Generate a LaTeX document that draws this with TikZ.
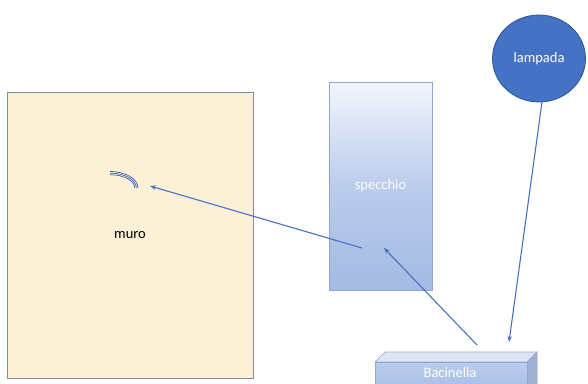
\documentclass[tikz,border=0pt]{standalone}
\usepackage{fontspec}
\setmainfont{Carlito}
\usetikzlibrary{arrows.meta,shapes.geometric}
\definecolor{wallfill}{RGB}{252,240,214}
\definecolor{wallline}{RGB}{128,140,160}
\definecolor{officeblue}{RGB}{68,114,196}
\definecolor{darkblue}{RGB}{47,82,143}
\definecolor{mirrortop}{RGB}{242,245,252}
\definecolor{mirrorbot}{RGB}{164,186,228}
\definecolor{mirrorline}{RGB}{143,168,210}
\definecolor{tubfront}{RGB}{170,192,232}
\definecolor{tubtop}{RGB}{222,230,245}
\definecolor{tubside}{RGB}{160,176,208}
\tikzset{
  ray/.style={officeblue, line width=1.1pt, -{Stealth[length=6pt,width=4.5pt]}},
  txt/.style={font=\fontsize{14.5}{16}\selectfont, inner sep=0pt},
}
\begin{document}
\begin{tikzpicture}[x=1pt,y=-1pt]
\useasboundingbox (0,0) rectangle (588,383);

% wall
\node[draw=wallline, line width=0.9pt, fill=wallfill, minimum width=246pt, minimum height=286pt,
      txt, text=black] (muro) at (130,235) {muro};

% mirror
\node[draw=mirrorline, line width=0.9pt, top color=mirrortop, bottom color=mirrorbot,
      middle color=mirrorbot!70!mirrortop, minimum width=103pt, minimum height=208pt,
      txt, text=white] (specchio) at (380.5,186) {specchio};

% lamp
\node[ellipse, draw=darkblue, line width=0.8pt, fill=officeblue, minimum width=93pt, minimum height=87pt,
      txt, text=white] (lampada) at (539,58.5) {lampada};

% tub (box seen in perspective)
\fill[tubtop, draw=mirrorline, line width=0.6pt] (375,362) -- (385,352) -- (537,352) -- (527,362) -- cycle;
\fill[tubside, draw=mirrorline, line width=0.6pt] (527,362) -- (537,352) -- (537,384) -- (527,384) -- cycle;
\node[draw=mirrorline, line width=0.6pt, top color=tubfront!80!white, bottom color=tubfront,
      minimum width=152pt, minimum height=22pt, anchor=north west, inner sep=0pt] (bacinella) at (375,362) {};
\node[txt, text=white] (bactext) at (450,373) {Bacinella};

% fringes on the wall
\foreach \s in {0,1.6,3.2}{
  \draw[officeblue!85!black, line width=0.7pt] (110,171.5+\s) arc[start angle=-90, end angle=0, x radius=28-\s, y radius=16.5-\s];
}

% ray end points
\coordinate (fringe) at (150,186);
\coordinate (mirrorout) at (362,248);
\coordinate (mirrorin) at (384,248);
\coordinate (tubout) at (477,345);
\coordinate (tubin) at (509,342);
\coordinate (lampout) at (542,102);

\draw[ray] (lampout) -- (tubin);
\draw[ray] (tubout) -- (mirrorin);
\draw[ray] (mirrorout) -- (fringe);
\end{tikzpicture}
\end{document}
